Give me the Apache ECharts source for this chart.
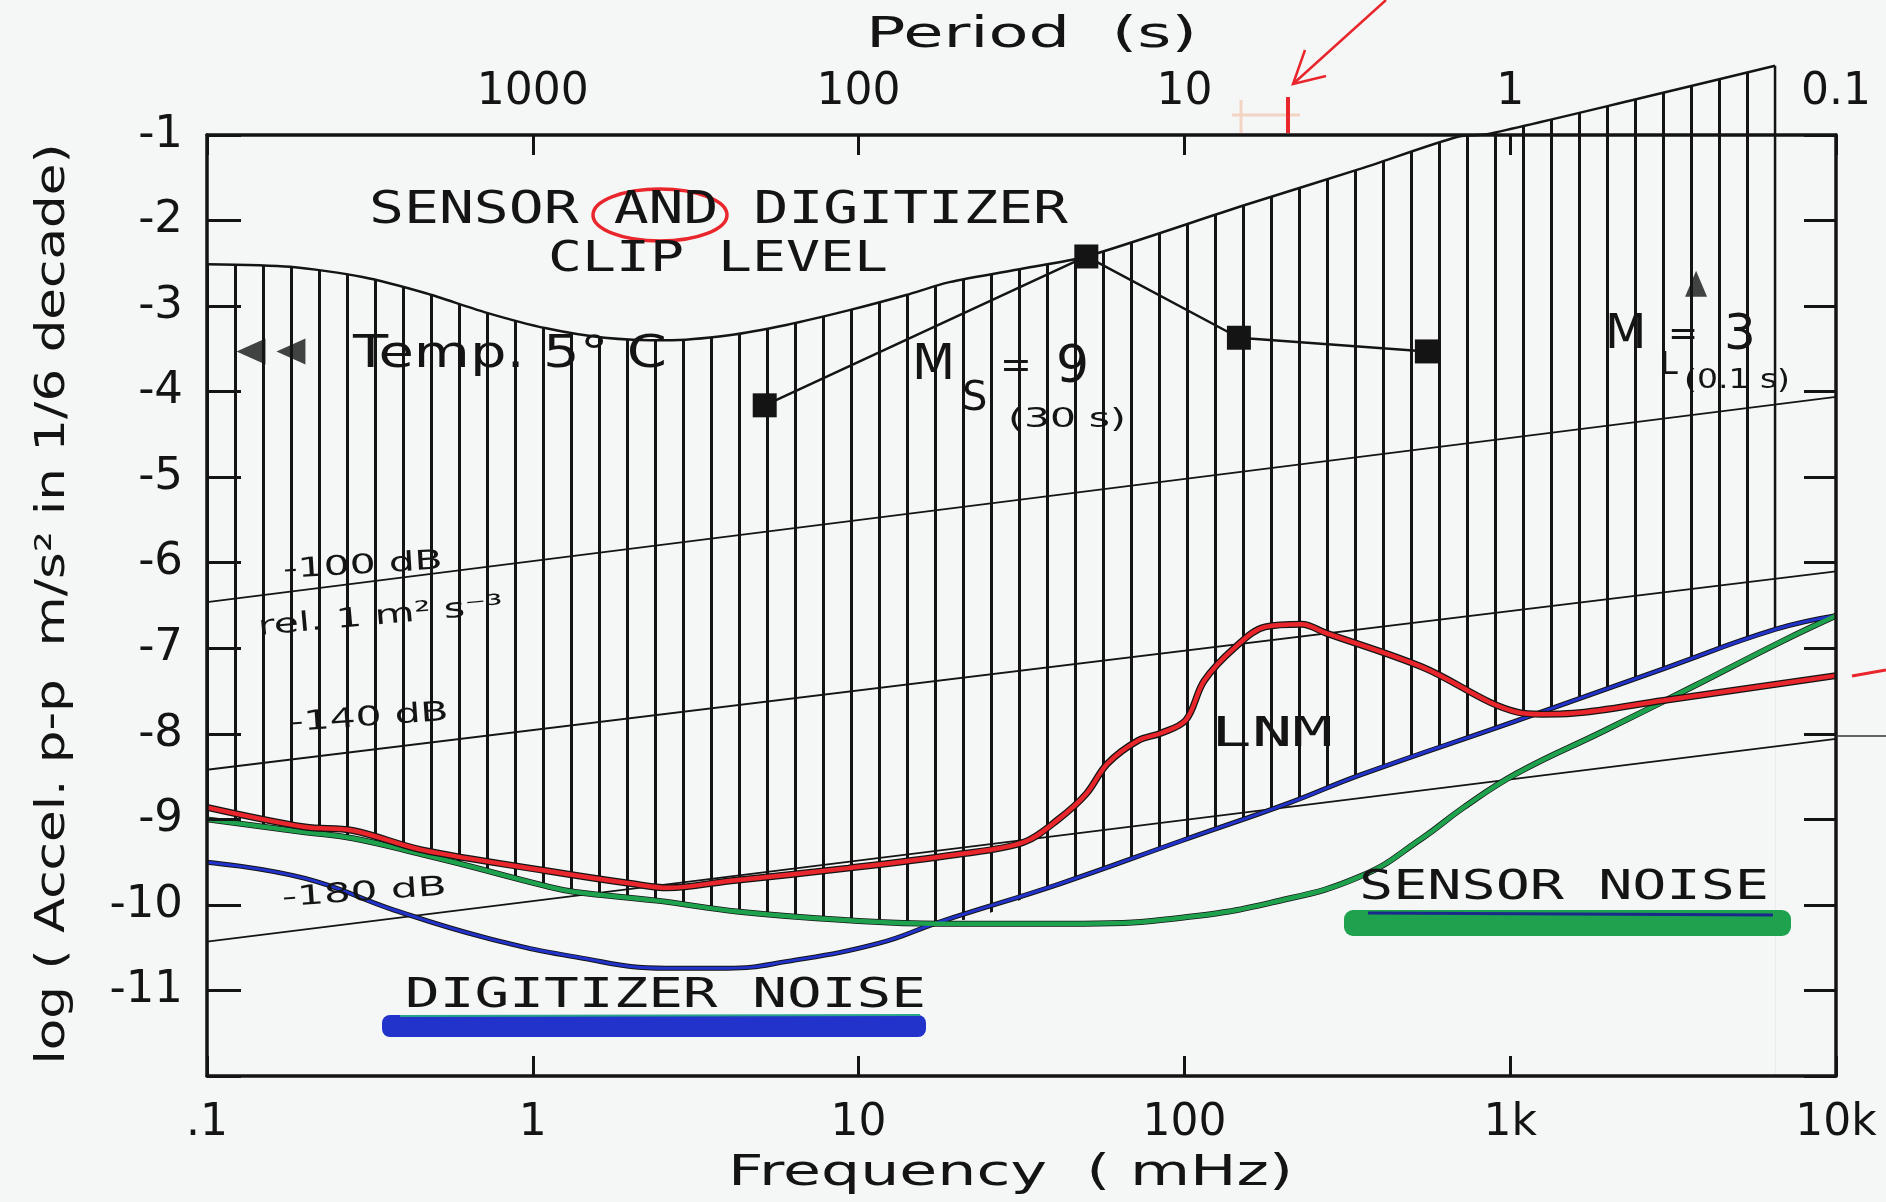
<!DOCTYPE html>
<html><head><meta charset="utf-8">
<script src="https://cdn.jsdelivr.net/npm/echarts@6/dist/echarts.min.js"></script>
<style>html,body{margin:0;padding:0;background:#f5f7f7;} #c{width:1886px;height:1202px;}</style>
</head><body><div id="c"></div>
<script>
// ---------- data ----------
const freqTicks = [0.1, 1, 10, 100, 1000, 10000];           // mHz
const freqTickLabels = ['.1', '1', '10', '100', '1k', '10k'];
const periodTickLabels = ['', '1000', '100', '10', '1', '0.1']; // s, at the same ticks

// sensor + digitizer clip level (top of hatched band)
const clipFreq  = [0.1, 0.18, 0.3, 0.47, 0.71, 1.1, 1.66, 2.57, 4.0, 6.0, 9.3, 14, 19, 32, 50, 150, 350, 690, 850, 2450, 6500];
const clipLevel = [-2.51, -2.54, -2.66, -2.85, -3.07, -3.26, -3.37, -3.40, -3.34, -3.22, -3.05, -2.87, -2.72, -2.56, -2.42, -1.83, -1.39, -1.02, -0.99, -0.58, -0.19];

// low noise model (red)
const lnmFreq  = [0.1, 0.2, 0.28, 0.46, 1.1, 2.0, 2.6, 4.0, 9.3, 20, 32, 41, 50, 58, 72, 85, 101, 115, 143, 177, 229, 271, 537, 1060, 1250, 1560, 2950, 10000];
const lnmLevel = [-8.86, -9.09, -9.13, -9.36, -9.60, -9.75, -9.80, -9.72, -9.57, -9.41, -9.27, -9.00, -8.70, -8.35, -8.08, -7.99, -7.84, -7.38, -6.99, -6.75, -6.72, -6.82, -7.22, -7.75, -7.77, -7.76, -7.61, -7.32];

// sensor noise (green)
const sensorFreq  = [0.1, 0.2, 0.28, 0.47, 0.6, 1.1, 1.35, 2.4, 4.3, 9.3, 17.8, 49, 98, 186, 350, 537, 720, 1050, 1930, 3630, 6900, 10000];
const sensorNoise = [-9.0, -9.15, -9.22, -9.42, -9.52, -9.78, -9.85, -9.95, -10.08, -10.18, -10.22, -10.22, -10.15, -9.97, -9.66, -9.22, -8.86, -8.46, -7.97, -7.45, -6.91, -6.62];

// digitizer noise (blue)
const digFreq  = [0.1, 0.2, 0.375, 0.71, 1.36, 2.57, 3.94, 6.05, 11.5, 17.7, 41.7, 98, 209, 347, 1023, 2950, 6500, 10000];
const digNoise = [-9.5, -9.69, -10.06, -10.38, -10.61, -10.74, -10.74, -10.66, -10.45, -10.2, -9.75, -9.25, -8.81, -8.48, -7.86, -7.24, -6.78, -6.62];

// constant-power lines (-100, -140, -180 dB rel. 1 m^2 s^-3)
const dbFreq = [0.1, 10000];
const db100 = [-6.46, -4.06];
const db140 = [-8.42, -6.10];
const db180 = [-10.43, -8.06];

// Ms = 9 (30 s) spectrum points
const msFreq  = [5.15, 50, 147, 555];
const msLevel = [-4.16, -2.42, -3.37, -3.53];
// temperature markers and ML = 3 marker
const tempFreq  = [0.1365, 0.181];
const tempLevel = [-3.53, -3.53];
const mlFreq  = [3720];
const mlLevel = [-2.74];

// ---------- build ----------
const pts = (fs, vs) => fs.map((f, i) => [f, vs[i]]);
const crossF = 17.7;                       // where digitizer noise rises above sensor noise
const hatchEnd = clipFreq[clipFreq.length - 1];
const floor = [];
sensorFreq.forEach((f, i) => { if (f < crossF) floor.push([f, sensorNoise[i]]); });
digFreq.forEach((f, i) => { if (f >= crossF && f <= hatchEnd) floor.push([f, digNoise[i]]); });

const BG = '#f5f7f7', INK = '#141414';
const RED = '#e8262c', GREEN = '#1fa24e', BLUE = '#2233cc';

function hatchPattern() {
  const c = document.createElement('canvas');
  c.width = 28; c.height = 8;
  const g = c.getContext('2d');
  g.fillStyle = INK; g.fillRect(10, 0, 3, 8);
  return c;
}

const mctx = document.createElement('canvas').getContext('2d');
function fit(text, font, w) { mctx.font = font; return w / mctx.measureText(text).width; }
function txt(text, x, y, size, family, w, extra) {
  const font = size + 'px ' + family;
  const el = { type: 'text', x: x, y: y, z: 100,
    style: { text: text, font: font, fill: INK, align: 'left', verticalAlign: 'middle', textAlign: 'left', textVerticalAlign: 'middle' } };
  if (w) el.scaleX = fit(text, font, w);
  if (extra) {
    if (extra.align) { el.style.align = extra.align; el.style.textAlign = extra.align; }
    if (extra.rotation) el.rotation = extra.rotation;
    if (extra.fill) el.style.fill = extra.fill;
  }
  return el;
}
const MONO = '"DejaVu Sans Mono"', SANS = '"DejaVu Sans"';

const idx = v => Math.round(Math.log10(v)) + 1;
const axisCommon = {
  type: 'log', logBase: 10, min: 0.1, max: 10000, z: 10,
  axisLine: { show: true, onZero: false, lineStyle: { color: INK, width: 3.5 } },
  axisTick: { show: true, inside: true, length: 20, lineStyle: { color: INK, width: 3 } },
  minorTick: { show: false }, splitLine: { show: false }, minorSplitLine: { show: false }
};
const yCommon = {
  type: 'value', min: -12, max: -1, interval: 1, z: 10,
  axisLine: { show: true, onZero: false, lineStyle: { color: INK, width: 3.5 } },
  axisTick: { show: true, inside: true, length: 34, lineStyle: { color: INK, width: 3 } },
  splitLine: { show: false }
};

const chart = echarts.init(document.getElementById('c'), null, { renderer: 'canvas', width: 1886, height: 1202 });
chart.setOption({
  animation: false,
  backgroundColor: BG,
  grid: { left: 207, right: 50, top: 135, bottom: 126, containLabel: false, outerBoundsMode: 'none' },
  xAxis: [
    Object.assign({}, axisCommon, { position: 'bottom',
      axisLabel: { margin: 26, color: INK, fontFamily: 'DejaVu Sans', fontSize: 44,
        formatter: v => freqTickLabels[idx(v)] } }),
    Object.assign({}, axisCommon, { position: 'top',
      axisLabel: { margin: 20, color: INK, fontFamily: 'DejaVu Sans', fontSize: 44,
        formatter: v => periodTickLabels[idx(v)] } })
  ],
  yAxis: [
    Object.assign({}, yCommon, { position: 'left',
      axisLabel: { margin: 24, color: INK, fontFamily: 'DejaVu Sans', fontSize: 45,
        formatter: v => (v <= -12 ? '' : String(v)) } }),
    Object.assign({}, yCommon, { position: 'right', axisLabel: { show: false },
      axisTick: { show: true, inside: true, length: 32, lineStyle: { color: INK, width: 3 } } })
  ],
  series: [
    { name: 'Clip level', type: 'line', data: pts(clipFreq, clipLevel), clip: false, z: 1,
      smooth: 0.25, symbol: 'none', lineStyle: { color: INK, width: 2.5 },
      areaStyle: { color: { image: hatchPattern(), repeat: 'repeat' }, origin: 'start', opacity: 1 } },
    { name: 'Noise floor', type: 'line', data: floor, z: 2, smooth: 0.4, symbol: 'none',
      lineStyle: { width: 0 }, areaStyle: { color: BG, origin: 'start', opacity: 1 } },
    { name: 'Band edge', type: 'line', z: 3, clip: false, symbol: 'none',
      data: [[hatchEnd, clipLevel[clipLevel.length - 1]], [hatchEnd, floor[floor.length - 1][1]]],
      lineStyle: { color: INK, width: 2.5 } },
    { name: '-100 dB', type: 'line', data: pts(dbFreq, db100), z: 3, symbol: 'none', lineStyle: { color: INK, width: 1.8 } },
    { name: '-140 dB', type: 'line', data: pts(dbFreq, db140), z: 3, symbol: 'none', lineStyle: { color: INK, width: 1.8 } },
    { name: '-180 dB', type: 'line', data: pts(dbFreq, db180), z: 3, symbol: 'none', lineStyle: { color: INK, width: 1.8 } },
    { name: 'Digitizer noise edge', type: 'line', data: pts(digFreq, digNoise), z: 4, smooth: 0.45, symbol: 'none', lineStyle: { color: INK, width: 5 } },
    { name: 'Digitizer noise', type: 'line', data: pts(digFreq, digNoise), z: 5, smooth: 0.45, symbol: 'none', lineStyle: { color: BLUE, width: 3 } },
    { name: 'Sensor noise edge', type: 'line', data: pts(sensorFreq, sensorNoise), z: 4, smooth: 0.45, symbol: 'none', lineStyle: { color: INK, width: 6 } },
    { name: 'Sensor noise', type: 'line', data: pts(sensorFreq, sensorNoise), z: 5, smooth: 0.45, symbol: 'none', lineStyle: { color: GREEN, width: 4.5 } },
    { name: 'LNM edge', type: 'line', data: pts(lnmFreq, lnmLevel), z: 6, smooth: 0.35, symbol: 'none', lineStyle: { color: INK, width: 7 } },
    { name: 'LNM', type: 'line', data: pts(lnmFreq, lnmLevel), z: 7, smooth: 0.35, symbol: 'none', lineStyle: { color: RED, width: 4.5 } },
    { name: 'Ms = 9', type: 'line', data: pts(msFreq, msLevel), z: 8, symbol: 'rect', symbolSize: 24,
      itemStyle: { color: INK }, lineStyle: { color: INK, width: 2.5 } },
    { name: 'Temp', type: 'scatter', data: pts(tempFreq, tempLevel), z: 8, symbol: 'triangle', symbolRotate: 90,
      symbolSize: [26, 29], itemStyle: { color: INK } },
    { name: 'ML = 3', type: 'scatter', data: pts(mlFreq, mlLevel), z: 8, symbol: 'triangle',
      symbolSize: [22, 26], itemStyle: { color: INK } }
  ],
  graphic: { elements: [
    // axis names
    txt('Period  (s)', 866, 36, 42, SANS, 331),
    txt('Frequency  ( mHz)', 728, 1174, 42, SANS, 565),
    txt('log ( Accel. p-p  m/s² in 1/6 decade)', 54, 604, 40, SANS, 921, { align: 'center', rotation: Math.PI / 2 }),
    // printed lettering
    txt('SENSOR AND DIGITIZER', 369, 212, 44, MONO, 699),
    txt('CLIP LEVEL', 548, 260, 42, MONO, 340),
    txt('DIGITIZER NOISE', 405, 997, 40, MONO, 521),
    txt('SENSOR NOISE', 1359, 889, 40, MONO, 410),
    txt('LNM', 1211, 735, 41, MONO, 122),
    // hand lettering
    txt('Temp. 5° C', 353, 356, 44, SANS, 314),
    txt('M', 912, 366, 50, SANS), txt('S', 962, 400, 40, SANS), txt('=', 1000, 367, 38, SANS), txt('9', 1056, 368, 52, SANS),
    txt('(30 s)', 1008, 420, 27, SANS, 118),
    txt('M', 1605, 336, 48, SANS), txt('L', 1660, 366, 32, SANS), txt('=', 1668, 336, 36, SANS), txt('3', 1724, 336, 50, SANS),
    txt('(0.1 s)', 1684, 381, 27, SANS, 106),
    txt('-100 dB', 283, 571, 27, SANS, 160, { rotation: 0.06 }),
    txt('rel. 1 m² s⁻³', 258, 628, 27, SANS, 246, { rotation: 0.09 }),
    txt('-140 dB', 289, 724, 27, SANS, 160, { rotation: 0.07 }),
    txt('-180 dB', 282, 899, 27, SANS, 165, { rotation: 0.07 }),
    // highlighter strokes under the labels
    { type: 'rect', z: 90, shape: { x: 382, y: 1015, width: 544, height: 22, r: 8 }, style: { fill: BLUE } },
    { type: 'line', z: 91, shape: { x1: 400, y1: 1016, x2: 920, y2: 1015 }, style: { stroke: '#2aa58c', lineWidth: 2 } },
    { type: 'rect', z: 90, shape: { x: 1344, y: 910, width: 447, height: 26, r: 9 }, style: { fill: GREEN } },
    { type: 'line', z: 91, shape: { x1: 1368, y1: 913, x2: 1773, y2: 915 }, style: { stroke: '#1a2a8c', lineWidth: 3 } },
    // red pen annotations
    { type: 'ellipse', z: 95, shape: { cx: 660, cy: 215, rx: 67, ry: 26 }, style: { fill: 'none', stroke: RED, lineWidth: 3.5 } },
    { type: 'polyline', z: 95, shape: { points: [[1386, 0], [1293, 84]] }, style: { stroke: RED, lineWidth: 2.5, fill: 'none' } },
    { type: 'polyline', z: 95, shape: { points: [[1305, 50], [1293, 84], [1326, 76]] }, style: { stroke: RED, lineWidth: 2.5, fill: 'none' } },
    { type: 'line', z: 95, shape: { x1: 1288, y1: 97, x2: 1288, y2: 133 }, style: { stroke: RED, lineWidth: 4 } },
    { type: 'line', z: 94, shape: { x1: 1241, y1: 100, x2: 1241, y2: 133 }, style: { stroke: '#f3d3c3', lineWidth: 3 } },
    { type: 'line', z: 94, shape: { x1: 1232, y1: 115, x2: 1300, y2: 115 }, style: { stroke: '#f3d3c3', lineWidth: 3 } },
    { type: 'line', z: 95, shape: { x1: 1852, y1: 676, x2: 1886, y2: 670 }, style: { stroke: RED, lineWidth: 3 } },
    { type: 'line', z: 95, shape: { x1: 1836, y1: 736, x2: 1886, y2: 736 }, style: { stroke: '#333', lineWidth: 1.5 } }
  ] }
});
</script>
</body></html>
